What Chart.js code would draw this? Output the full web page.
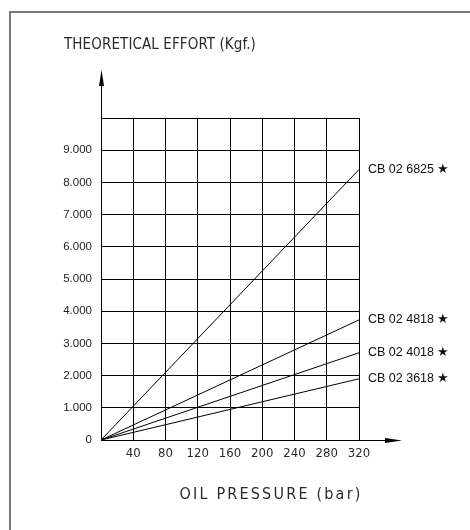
<!DOCTYPE html>
<html lang="en">
<head>
    <meta charset="UTF-8">
    <title>Theoretical Effort vs Oil Pressure</title>
    <script src="https://cdn.jsdelivr.net/npm/chart.js"></script>
    <style>
        body { margin: 0; background: #fff; overflow: hidden; }
        canvas { display: block; }
    </style>
</head>
<body>
<canvas id="chart" width="470" height="530"></canvas>
<script>
    // valores
    const pressure = [0, 320];
    const cylinders = ['CB 02 6825', 'CB 02 4818', 'CB 02 4018', 'CB 02 3618'];
    const effort6825 = [0, 8400];
    const effort4818 = [0, 3730];
    const effort4018 = [0, 2710];
    const effort3618 = [0, 1900];
    const xTicks = [0, 40, 80, 120, 160, 200, 240, 280, 320];
    const yTicks = [0, 1000, 2000, 3000, 4000, 5000, 6000, 7000, 8000, 9000, 10000];

    const yTitle = 'THEORETICAL EFFORT (Kgf.)';
    const xTitle = 'OIL PRESSURE (bar)';

    const series = [effort6825, effort4818, effort4018, effort3618];
    const datasets = series.map((s, i) => ({
        label: cylinders[i],
        data: s.map((v, j) => ({ x: pressure[j], y: v })),
        borderColor: '#000',
        borderWidth: 1,
        pointRadius: 0,
        fill: false
    }));

    const cadFont = '"DejaVu Sans Condensed", "DejaVu Sans", sans-serif';

    // marco gris del plano
    const frame = {
        id: 'frame',
        beforeDraw(chart) {
            const ctx = chart.ctx;
            ctx.save();
            ctx.strokeStyle = '#7a7a7a';
            ctx.lineWidth = 2;
            ctx.beginPath();
            ctx.moveTo(10, chart.height);
            ctx.lineTo(10, 12);
            ctx.lineTo(chart.width, 12);
            ctx.stroke();
            ctx.restore();
        }
    };

    // ejes con flechas, titulos y etiquetas de cada linea
    const extras = {
        id: 'extras',
        afterDraw(chart) {
            const ctx = chart.ctx;
            const a = chart.chartArea;
            const xs = chart.scales.x, ys = chart.scales.y;
            ctx.save();
            ctx.strokeStyle = '#000';
            ctx.fillStyle = '#000';
            ctx.lineWidth = 1;
            // eje y
            const yTop = a.top - 48;
            ctx.beginPath();
            ctx.moveTo(a.left + 0.5, a.bottom);
            ctx.lineTo(a.left + 0.5, yTop + 10);
            ctx.stroke();
            ctx.beginPath();
            ctx.moveTo(a.left + 0.5, yTop);
            ctx.lineTo(a.left - 2, yTop + 16);
            ctx.lineTo(a.left + 3, yTop + 16);
            ctx.closePath();
            ctx.fill();
            // eje x
            const xEnd = a.right + 43;
            ctx.beginPath();
            ctx.moveTo(a.left, a.bottom + 0.5);
            ctx.lineTo(xEnd - 10, a.bottom + 0.5);
            ctx.stroke();
            ctx.beginPath();
            ctx.moveTo(xEnd, a.bottom + 0.5);
            ctx.lineTo(xEnd - 17, a.bottom - 2);
            ctx.lineTo(xEnd - 17, a.bottom + 3);
            ctx.closePath();
            ctx.fill();

            // titulos
            ctx.fillStyle = '#2a2a2a';
            ctx.textBaseline = 'middle';
            ctx.textAlign = 'left';
            ctx.font = '15px ' + cadFont;
            ctx.letterSpacing = '0.1px';
            ctx.fillText(yTitle, a.left - 37, a.top - 72.5);
            ctx.textAlign = 'center';
            ctx.font = '16px ' + cadFont;
            ctx.letterSpacing = '2.2px';
            ctx.fillText(xTitle, (a.left + a.right) / 2 + 41, a.bottom + 55);
            ctx.letterSpacing = '0px';

            // etiquetas
            ctx.font = '12.5px "Liberation Sans", Arial, sans-serif';
            ctx.textAlign = 'left';
            ctx.fillStyle = '#111';
            series.forEach((s, i) => {
                const last = s.length - 1;
                const px = xs.getPixelForValue(pressure[last]);
                const py = ys.getPixelForValue(s[last]);
                ctx.fillText(cylinders[i] + ' \u2605', px + 9, py);
            });
            ctx.restore();
        }
    };

    new Chart(document.getElementById('chart'), {
        type: 'line',
        data: { datasets: datasets },
        options: {
            responsive: false,
            animation: false,
            layout: { padding: { left: 0, right: 111, top: 118, bottom: 0 } },
            plugins: { legend: { display: false }, tooltip: { enabled: false } },
            scales: {
                x: {
                    type: 'linear',
                    min: 0, max: 320,
                    afterBuildTicks: (s) => { s.ticks = xTicks.map(v => ({ value: v })); },
                    afterFit: (s) => { s.height = 90; },
                    grid: { color: '#000', lineWidth: 1, drawTicks: false },
                    border: { display: false },
                    ticks: {
                        padding: 6,
                        color: '#2a2a2a',
                        font: { family: 'DejaVu Sans Condensed', size: 13 },
                        callback: (v) => v === 0 ? '' : String(v)
                    }
                },
                y: {
                    min: 0, max: 10000,
                    afterBuildTicks: (s) => { s.ticks = yTicks.map(v => ({ value: v })); },
                    afterFit: (s) => { s.width = 101; },
                    grid: { color: '#000', lineWidth: 1, drawTicks: false },
                    border: { display: false },
                    ticks: {
                        padding: 9,
                        color: '#222',
                        font: { family: 'Liberation Sans', size: 11.5 },
                        callback: (v) => {
                            if (v === 10000) return '';
                            if (v === 0) return '0';
                            return (v / 1000).toFixed(3);
                        }
                    }
                }
            }
        },
        plugins: [frame, extras]
    });
</script>
</body>
</html>
